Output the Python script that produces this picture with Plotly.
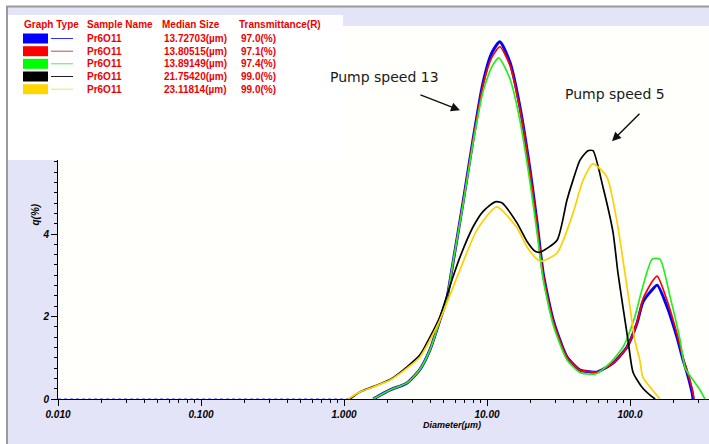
import plotly.graph_objects as go

# ---------------- data ----------------
blue_d = [1.60, 2.10, 2.76, 3.40, 3.99, 4.69, 5.25, 5.78, 6.79, 7.98, 9.37, 10.8, 12.3, 14.5, 17.0, 20.0, 22.4,
          24.7, 29.0, 36.2, 44.7, 52.5, 58.7, 76.0, 95.3, 112, 123, 143, 155, 182, 213, 235, 251, 272, 276]
blue_q = [0, 0.22, 0.39, 0.72, 1.19, 1.92, 2.45, 3.30, 4.75, 6.28, 7.66, 8.39, 8.66, 8.15, 7.08, 5.55, 4.27,
          3.05, 1.92, 1.02, 0.70, 0.66, 0.65, 0.87, 1.26, 1.84, 2.35, 2.65, 2.76, 2.23, 1.50, 0.95, 0.63, 0.15, 0]

red_d = [1.60, 2.10, 2.76, 3.40, 3.99, 4.69, 5.25, 5.78, 6.79, 7.98, 9.37, 10.8, 12.3, 14.5, 17.0, 20.0, 22.4,
         24.7, 29.0, 36.2, 44.7, 52.5, 58.7, 76.0, 95.3, 112, 123, 143, 155, 182, 213, 235, 251, 275, 280]
red_q = [0, 0.22, 0.39, 0.72, 1.19, 1.92, 2.45, 3.30, 4.75, 6.28, 7.60, 8.28, 8.54, 8.08, 7.02, 5.50, 4.22,
         3.02, 1.90, 1.02, 0.70, 0.66, 0.65, 0.87, 1.26, 1.86, 2.42, 2.85, 2.98, 2.38, 1.58, 1.00, 0.68, 0.18, 0]

green_d = [1.60, 2.10, 2.76, 3.40, 3.99, 4.69, 5.25, 5.78, 6.79, 7.98, 9.37, 10.8, 12.1, 14.5, 17.0, 20.0, 22.4,
           24.7, 29.0, 36.2, 44.7, 52.5, 58.7, 72.4, 89.3, 108, 121, 143, 162, 191, 224, 243, 276, 309, 334]
green_q = [0, 0.22, 0.39, 0.72, 1.19, 1.92, 2.45, 3.30, 4.70, 6.20, 7.45, 8.05, 8.27, 7.75, 6.75, 5.25, 4.02,
           2.90, 1.80, 0.95, 0.64, 0.60, 0.62, 0.87, 1.26, 1.99, 2.64, 3.39, 3.39, 2.47, 1.43, 0.75, 0.46, 0.22, 0]

black_d = [1.10, 1.29, 1.60, 2.10, 2.76, 3.40, 3.99, 4.69, 5.78, 6.47, 7.98, 9.4, 11.4, 12.7, 16.2, 19.1,
           21.7, 23.5, 30.9, 36.2, 39.9, 44.7, 50.8, 55.1, 64.7, 76.0, 82.4, 89.3, 96.8, 105, 121, 143, 150]
black_q = [0, 0.17, 0.30, 0.47, 0.78, 1.07, 1.50, 2.00, 2.96, 3.44, 4.17, 4.55, 4.78, 4.76, 4.27, 3.81,
           3.58, 3.56, 3.85, 4.82, 5.30, 5.79, 6.02, 6.02, 5.14, 4.05, 3.05, 2.23, 1.43, 0.65, 0.29, 0.05, 0]

yellow_d = [1.07, 1.29, 1.60, 2.10, 2.76, 3.40, 3.99, 4.69, 6.47, 8.51, 11.7, 16.2, 19.1, 23.5, 30.9, 39.9,
            46.9, 55.1, 69.0, 81.1, 92.2, 100, 108, 117, 123, 138, 162]
yellow_q = [0, 0.17, 0.29, 0.46, 0.75, 1.02, 1.43, 1.92, 3.13, 4.10, 4.66, 4.15, 3.68, 3.34, 3.54, 4.50,
            5.30, 5.70, 5.38, 4.30, 3.05, 2.23, 1.43, 0.95, 0.53, 0.29, 0]

baseline_d = [0.01, 1.07]
baseline_q = [0, 0]

x_tickvals = [0.01, 0.1, 1, 10, 100]
x_ticktext = ["0.010", "0.100", "1.000", "10.00", "100.0"]
y_tickvals = [0, 2, 4, 6, 8]
y_ticktext = ["0", "2", "4", "6", "8"]

legend_header = ["Graph Type", "Sample Name", "Median Size", "Transmittance(R)"]
sample_names = ["Pr6O11", "Pr6O11", "Pr6O11", "Pr6O11", "Pr6O11"]
median_sizes = ["13.72703(µm)", "13.80515(µm)", "13.89149(µm)", "21.75420(µm)", "23.11814(µm)"]
transmittances = ["97.0(%)", "97.1(%)", "97.4(%)", "99.0(%)", "99.0(%)"]

series_colors = ["#0000FF", "#FF0000", "#22EE22", "#000000", "#FFD000"]
swatch_colors = ["#0000FF", "#FF0000", "#00FF00", "#000000", "#FFD700"]
sample_line_colors = ["#3030FF", "#B05050", "#60E060", "#202020", "#F0E060"]

# ---------------- layout helpers ----------------
W, H = 709, 444
ML, MR, MT, MB = 58, 0, 26, 45
PW, PH = W - ML - MR, H - MT - MB


def px(xp):
    return (xp - ML) / PW


def py(yp):
    return (H - MB - yp) / PH


fig = go.Figure()

fig.add_trace(go.Scatter(x=baseline_d, y=baseline_q, mode="lines",
                         line=dict(color="#4040FF", width=1, dash="dot"), hoverinfo="skip"))

series = [(blue_d, blue_q, 3.0), (red_d, red_q, 1.7), (green_d, green_q, 1.7),
          (black_d, black_q, 1.7), (yellow_d, yellow_q, 1.7)]
for (d, q, w), c in zip(series, series_colors):
    fig.add_trace(go.Scatter(x=d, y=q, mode="lines",
                             line=dict(color=c, width=w, shape="spline", smoothing=0.6)))

tick_font = dict(family="Liberation Sans, Arial", size=10, color="black", weight="bold", style="italic")

minor_x = [m * 10 ** e for e in range(-2, 3) for m in range(2, 10)]
minor_y = [i * 0.25 for i in range(0, 37) if (i * 0.25) % 2 != 0]

fig.update_xaxes(type="log", range=[-2, -2 + PW / 143.0], showgrid=False, zeroline=False,
                 showline=True, linecolor="black", linewidth=1,
                 tickmode="array", tickvals=x_tickvals, ticktext=x_ticktext,
                 ticks="outside", ticklen=6, tickcolor="black", tickfont=tick_font,
                 minor=dict(tickmode="array", tickvals=minor_x, ticks="outside", ticklen=3,
                            tickcolor="black", showgrid=False))
fig.update_yaxes(range=[0, PH / 41.25], showgrid=False, zeroline=False,
                 showline=True, linecolor="black", linewidth=1,
                 tickmode="array", tickvals=y_tickvals, ticktext=y_ticktext,
                 ticks="outside", ticklen=6, tickcolor="black", tickfont=tick_font,
                 minor=dict(tickmode="array", tickvals=minor_y, ticks="outside", ticklen=3,
                            tickcolor="black", showgrid=False))

shapes = []
# white outer strips and grey frame
shapes.append(dict(type="rect", xref="paper", yref="paper", x0=px(0), x1=px(W), y0=py(0), y1=py(6),
                   fillcolor="white", line=dict(width=0), layer="above"))
shapes.append(dict(type="rect", xref="paper", yref="paper", x0=px(0), x1=px(6), y0=py(0), y1=py(H),
                   fillcolor="white", line=dict(width=0), layer="above"))
shapes.append(dict(type="line", xref="paper", yref="paper", x0=px(6), x1=px(W), y0=py(6.5), y1=py(6.5),
                   line=dict(color="#9A9A9A", width=2), layer="above"))
shapes.append(dict(type="line", xref="paper", yref="paper", x0=px(7), x1=px(7), y0=py(6), y1=py(H),
                   line=dict(color="#9A9A9A", width=2), layer="above"))
# legend box
shapes.append(dict(type="rect", xref="paper", yref="paper", x0=px(8), x1=px(343), y0=py(15), y1=py(160),
                   fillcolor="white", line=dict(width=0), layer="above"))

annotations = []
leg_font = dict(family="Liberation Sans, Arial", size=10, color="#EE0000", weight="bold")
header_x = [22, 85, 160, 237]
for t, xx in zip(legend_header, header_x):
    annotations.append(dict(xref="paper", yref="paper", x=px(xx), y=py(24), text=t, showarrow=False,
                            xanchor="left", yanchor="middle", font=leg_font))
row_y = [38.5, 51.2, 63.8, 76.5, 89.2]
for i, yy in enumerate(row_y):
    shapes.append(dict(type="rect", xref="paper", yref="paper", x0=px(23), x1=px(48),
                       y0=py(yy - 5), y1=py(yy + 5), fillcolor=swatch_colors[i],
                       line=dict(width=0), layer="above"))
    shapes.append(dict(type="line", xref="paper", yref="paper", x0=px(51), x1=px(73),
                       y0=py(yy), y1=py(yy), line=dict(color=sample_line_colors[i], width=1),
                       layer="above"))
    annotations.append(dict(xref="paper", yref="paper", x=px(85), y=py(yy), text=sample_names[i],
                            showarrow=False, xanchor="left", yanchor="middle", font=leg_font))
    annotations.append(dict(xref="paper", yref="paper", x=px(162), y=py(yy), text=median_sizes[i],
                            showarrow=False, xanchor="left", yanchor="middle", font=leg_font))
    annotations.append(dict(xref="paper", yref="paper", x=px(239), y=py(yy), text=transmittances[i],
                            showarrow=False, xanchor="left", yanchor="middle", font=leg_font))

lab_font = dict(family="DejaVu Sans", size=14, color="#1A1A1A")
annotations.append(dict(x=0.280, y=7.81, xref="x", yref="y", text="Pump speed 13", showarrow=False,
                        font=lab_font))
annotations.append(dict(x=1.895, y=7.39, xref="x", yref="y", text="Pump speed 5", showarrow=False,
                        font=lab_font))
annotations.append(dict(x=0.811, y=7.0, xref="x", yref="y", text="", showarrow=True, ax=-41, ay=-16,
                        arrowhead=2, arrowsize=1.2, arrowwidth=1.5, arrowcolor="#111"))
annotations.append(dict(x=1.874, y=6.25, xref="x", yref="y", text="", showarrow=True, ax=29, ay=-29,
                        arrowhead=2, arrowsize=1.2, arrowwidth=1.5, arrowcolor="#111"))

title_font = dict(family="Liberation Sans, Arial", size=9, color="black", weight="bold", style="italic")
annotations.append(dict(xref="paper", yref="paper", x=px(452), y=py(432), text="Diameter(μm)",
                        showarrow=False, font=title_font))
annotations.append(dict(xref="paper", yref="paper", x=px(27), y=py(215), text="q(%)", textangle=-90,
                        showarrow=False, font=dict(family="Liberation Sans, Arial", size=10, color="black",
                                                   weight="bold", style="italic")))

fig.update_layout(width=W, height=H, autosize=False,
                  margin=dict(l=ML, r=MR, t=MT, b=MB, pad=0),
                  paper_bgcolor="#E4E4F8", plot_bgcolor="#FFFFFC",
                  showlegend=False, shapes=shapes, annotations=annotations)

fig.write_html("out.html")
